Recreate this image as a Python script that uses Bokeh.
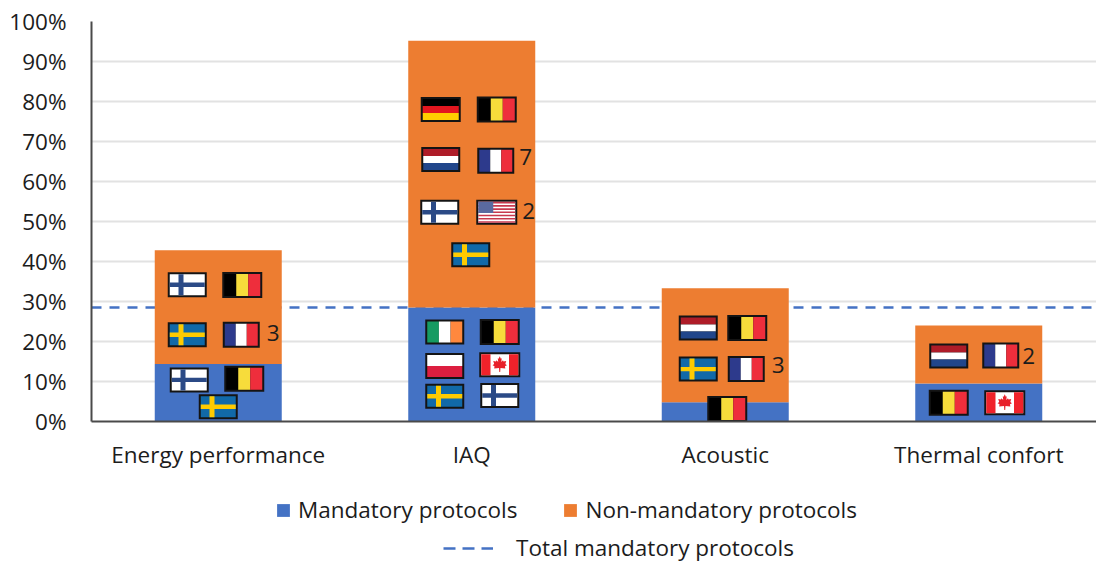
from bokeh.plotting import figure
from bokeh.layouts import column
from bokeh.models import ColumnDataSource, Range1d, FixedTicker, PrintfTickFormatter, Legend, LegendItem
from bokeh.core.properties import value
from bokeh.embed import file_html
from bokeh.resources import INLINE

# ---- data ----
categories = ["Energy performance", "IAQ", "Acoustic", "Thermal confort"]
mandatory = [14.4, 28.5, 4.8, 9.5]
non_mandatory = [28.4, 66.7, 28.5, 14.5]
total_mandatory = 28.5
y_ticks = [0, 10, 20, 30, 40, 50, 60, 70, 80, 90, 100]

# ---- flag decorations: (code, category index, offset from bar centre in px, height in %) ----
flag_marks = [
    ("FI", 0, -31, 34.2), ("BE", 0, 24, 34.1), ("SE", 0, -31, 21.7), ("FR", 0, 23, 21.7),
    ("FI", 0, -29, 10.4), ("BE", 0, 26, 10.7), ("SE", 0, 0, 3.7),
    ("DE", 1, -31, 78.0), ("BE", 1, 25, 78.0), ("NL", 1, -31, 65.5), ("FR", 1, 24, 65.2),
    ("FI", 1, -32, 52.3), ("US", 1, 25, 52.3), ("SE", 1, -1, 41.7),
    ("IE", 1, -27, 22.4), ("BE", 1, 28, 22.4), ("PL", 1, -27, 13.9), ("CA", 1, 28, 14.2),
    ("SE", 1, -27, 6.3), ("FI", 1, 28, 6.5),
    ("NL", 2, -27, 23.4), ("BE", 2, 22, 23.4), ("SE", 2, -27, 13.1), ("FR", 2, 21, 13.1),
    ("BE", 2, 2, 3.1),
    ("NL", 3, -30, 16.4), ("FR", 3, 22, 16.5), ("BE", 3, -30, 4.7), ("CA", 3, 26, 4.7),
]
count_labels = [("3", 0, 55, 22.2), ("7", 1, 54, 66.2), ("2", 1, 57, 52.7),
                ("3", 2, 53, 14.2), ("2", 3, 50, 16.4)]

TEXT = "#1c1c1c"
FONT = "Open Sans"
BLUE = "#4472c4"
ORANGE = "#ed7d31"
PX_X = 253.5   # px per category
PX_Y = 4.0     # px per percent
SIZE = "22.5px"

p = figure(width=1096, height=490, output_backend="svg", toolbar_location=None,
           x_range=Range1d(0, 1005 / PX_X), y_range=Range1d(0, 100),
           min_border_left=91, min_border_right=0, min_border_top=21, min_border_bottom=69,
           outline_line_color=None, background_fill_color="white")

p.xgrid.visible = False
p.ygrid.grid_line_color = "#e2e2e2"
p.ygrid.grid_line_width = 2
p.ygrid.ticker = FixedTicker(ticks=y_ticks)

x_pos = [i + 0.5 for i in range(len(categories))]
xa, ya = p.xaxis[0], p.yaxis[0]
xa.ticker = FixedTicker(ticks=x_pos)
xa.major_label_overrides = {x: c for x, c in zip(x_pos, categories)}
ya.ticker = FixedTicker(ticks=y_ticks)
ya.formatter = PrintfTickFormatter(format="%d%%")
for a in (xa, ya):
    a.major_tick_line_color = None
    a.minor_tick_line_color = None
    a.axis_line_color = "#4a4a4a"
    a.axis_line_width = 2
    a.major_label_text_font = FONT
    a.major_label_text_font_size = SIZE
    a.major_label_text_color = TEXT
xa.major_label_standoff = 11
ya.major_label_standoff = 19

p.line([0, 1005 / PX_X], [total_mandatory, total_mandatory], line_color=BLUE,
       line_width=2.5, line_dash="10 8")

src = ColumnDataSource(dict(x=x_pos, Mandatory=mandatory, NonMandatory=non_mandatory))
p.vbar_stack(["Mandatory", "NonMandatory"], x="x", width=127 / PX_X, source=src,
             color=[BLUE, ORANGE], line_color=None)

# ---- flags ----
STRIPES = {
    "BE": ("v", ["#000000", "#f7dc3b", "#ee2e3c"]),
    "FR": ("v", ["#2d3a8c", "#ffffff", "#ee2e3c"]),
    "IE": ("v", ["#169b62", "#ffffff", "#ff883e"]),
    "DE": ("h", ["#000000", "#e3161f", "#ffce00"]),
    "NL": ("h", ["#ae1c28", "#ffffff", "#21468b"]),
    "PL": ("h", ["#ffffff", "#dc1e3f"]),
}
SIZES = {"BE": (40, 26), "FR": (37, 26), "IE": (39, 25), "DE": (40, 25), "NL": (39, 25),
         "PL": (39, 26), "FI": (39, 25), "SE": (39, 25), "CA": (41, 25), "US": (41, 25)}
MAPLE = [(0, 1), (.12, .72), (.22, .78), (.17, .35), (.36, .55), (.42, .42), (.72, .48), (.62, .12),
         (.8, .0), (.58, -.12), (.62, -.38), (.08, -.3), (.05, -.75)]
MAPLE = MAPLE + [(-a, b) for a, b in reversed(MAPLE)]

ql, qr, qt, qb, qc = [], [], [], [], []
lx, ly = [], []

def box(cx, cy, x0, y0, x1, y1, color):
    """Rectangle given in px around a flag centre that sits at (cx, cy) in data units."""
    ql.append(cx + x0 / PX_X); qr.append(cx + x1 / PX_X)
    qt.append(cy - y0 / PX_Y); qb.append(cy - y1 / PX_Y); qc.append(color)

for code, cat, dx, height in flag_marks:
    cx, cy = cat + 0.5 + dx / PX_X, height
    W, H = SIZES[code]
    box(cx, cy, -W / 2, -H / 2, W / 2, H / 2, "#141414")
    w, h = W / 2 - 2, H / 2 - 2
    if code in STRIPES:
        kind, cols = STRIPES[code]
        n = len(cols)
        for i, c in enumerate(cols):
            if kind == "v":
                box(cx, cy, -w + 2 * w * i / n, -h, -w + 2 * w * (i + 1) / n, h, c)
            else:
                box(cx, cy, -w, -h + 2 * h * i / n, w, -h + 2 * h * (i + 1) / n, c)
    elif code in ("FI", "SE"):
        bg, cross = ("#ffffff", "#2b4a86") if code == "FI" else ("#1169a8", "#fecb00")
        box(cx, cy, -w, -h, w, h, bg)
        box(cx, cy, -w, -2.2, w, 2.2, cross)
        box(cx, cy, -w * 0.5, -h, -w * 0.5 + 5, h, cross)
    elif code == "CA":
        box(cx, cy, -w, -h, w, h, "#ffffff")
        box(cx, cy, -w, -h, -w * 0.5, h, "#f0222a")
        box(cx, cy, w * 0.5, -h, w, h, "#f0222a")
        lx.append([cx + a * 9 / PX_X for a, b in MAPLE])
        ly.append([cy + (b * 9 - 0.5) / PX_Y for a, b in MAPLE])
    elif code == "US":
        box(cx, cy, -w, -h, w, h, "#ffffff")
        n = 13
        for i in range(0, n, 2):
            box(cx, cy, -w, -h + 2 * h * i / n, w, -h + 2 * h * (i + 1) / n, "#c8384e")
        box(cx, cy, -w, -h, -w + 15, -h + 2 * h * 7 / n, "#5a6aa0")

p.quad(left=ql, right=qr, top=qt, bottom=qb, fill_color=qc, line_color=None)
p.patches(lx, ly, fill_color="#e8202a", line_color=None)

p.text(x=[c + 0.5 + d / PX_X for _, c, d, _ in count_labels], y=[y for *_, y in count_labels],
       text=[t for t, *_ in count_labels], text_font=value(FONT), text_font_size=SIZE,
       text_color=TEXT, text_align="center", text_baseline="middle")

# ---- legend strip below the chart (its frame lines up with the chart's frame) ----
lf = figure(width=1096, height=73, output_backend="svg", toolbar_location=None,
            x_range=Range1d(0, 1), y_range=Range1d(0, 1), x_axis_type=None, y_axis_type=None,
            min_border=0, outline_line_color=None)
lf.grid.visible = False
r_m = lf.vbar(x=[0.5], top=[1], width=1, color=BLUE, line_color=None, visible=False)
r_n = lf.vbar(x=[0.5], top=[1], width=1, color=ORANGE, line_color=None, visible=False)
r_t = lf.line(x=[0, 1], y=[0.5, 0.5], line_color=BLUE, line_width=2.5, line_dash="12 7", visible=False)

def make_legend(items, loc, glyph_w, glyph_h, standoff, spacing):
    lf.add_layout(Legend(items=items, location=loc, orientation="horizontal", glyph_width=glyph_w,
                         glyph_height=glyph_h, label_standoff=standoff, spacing=spacing, padding=0, margin=0,
                         border_line_color=None, background_fill_alpha=0,
                         label_text_font=FONT, label_text_font_size=SIZE, label_text_color=TEXT,
                         label_height=14))

make_legend([LegendItem(label="Mandatory protocols", renderers=[r_m]),
             LegendItem(label="Non-mandatory protocols", renderers=[r_n])], (184, 38), 16, 16, 7, 45)
make_legend([LegendItem(label="Total mandatory protocols", renderers=[r_t])], (352, 0), 50, 14, 23, 0)

open("out.html", "w").write(file_html(column(p, lf, spacing=0), INLINE))
